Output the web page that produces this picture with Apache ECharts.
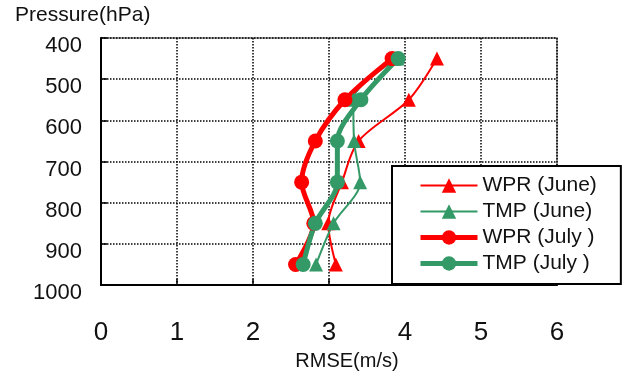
<!DOCTYPE html>
<html>
<head>
<meta charset="utf-8">
<script src="https://cdn.jsdelivr.net/npm/echarts@6/dist/echarts.min.js"></script>
<style>
  html, body { margin: 0; padding: 0; background: #fff; }
  #chart { width: 631px; height: 376px; }
</style>
</head>
<body>
<div id="chart"></div>
<script>
// Pressure levels (hPa) and RMSE (m/s) per series
const levels = [450, 550, 650, 750, 850, 950]
const wprJune = [4.42, 4.05, 3.39, 3.17, 2.99, 3.09]
const tmpJune = [3.90, 3.32, 3.33, 3.41, 3.06, 2.83]
const wprJuly = [3.83, 3.21, 2.82, 2.64, 2.80, 2.56]
const tmpJuly = [3.91, 3.42, 3.11, 3.11, 2.82, 2.66]
const seriesNames = ['WPR (June)', 'TMP (June)', 'WPR (July )', 'TMP (July )']

const RED = '#ff0000'
const GREEN = '#339966'
const FONT = 'Liberation Sans, Arial, sans-serif'

const pairs = vals => vals.map((v, i) => [v, levels[i]])

const makeSeries = (name, vals, color, symbol, width, size) => ({
  name,
  type: 'line',
  data: pairs(vals),
  smooth: 0.3,
  symbol,
  symbolSize: size,
  lineStyle: { color, width },
  itemStyle: { color },
  emphasis: { disabled: true },
})

const chart = echarts.init(document.getElementById('chart'))

chart.setOption({
  animation: false,
  textStyle: { fontFamily: FONT },
  title: {
    text: 'Pressure(hPa)',
    left: 10,
    top: 0,
    textStyle: { fontFamily: FONT, fontSize: 21, fontWeight: 'normal', color: '#111' },
  },
  grid: {
    left: 101,
    right: 74,
    top: 38,
    bottom: 89,
    show: true,
    borderColor: '#999',
    borderWidth: 2,
  },
  legend: {
    orient: 'vertical',
    left: 392,
    top: 166,
    data: [
      { name: seriesNames[0], lineStyle: { width: 2 } },
      { name: seriesNames[1], lineStyle: { width: 2 } },
      { name: seriesNames[2], lineStyle: { width: 5 } },
      { name: seriesNames[3], lineStyle: { width: 5 } },
    ],
    itemWidth: 57,
    itemHeight: 18,
    itemGap: 5,
    padding: [9, 24, 10, 26],
    borderColor: '#000',
    borderWidth: 2,
    borderRadius: 0,
    backgroundColor: '#fff',
    textStyle: { fontFamily: FONT, fontSize: 21, color: '#111', lineHeight: 21 },
  },
  xAxis: {
    type: 'value',
    min: 0,
    max: 6,
    interval: 1,
    name: 'RMSE(m/s)',
    nameLocation: 'middle',
    nameGap: 63,
    nameTextStyle: { fontFamily: FONT, fontSize: 20, color: '#111', padding: [0, 0, 0, 36] },
    axisLine: { show: true, lineStyle: { color: '#000', width: 2 } },
    axisTick: { show: true, inside: true, length: 6, lineStyle: { color: '#000', width: 1.5 } },
    axisLabel: { fontFamily: FONT, fontSize: 26, color: '#111', margin: 35 },
    splitLine: { show: true, lineStyle: { color: '#000', type: 'dotted', width: 1.5 } },
  },
  yAxis: {
    type: 'value',
    inverse: true,
    min: 400,
    max: 1000,
    interval: 100,
    axisLine: { show: true, lineStyle: { color: '#000', width: 2 } },
    axisTick: { show: true, inside: true, length: 6, lineStyle: { color: '#000', width: 1.5 } },
    axisLabel: {
      fontFamily: FONT,
      fontSize: 22,
      color: '#111',
      margin: 19,
      verticalAlign: 'top',
      lineHeight: 16,
      formatter: v => String(v),
    },
    splitLine: { show: true, lineStyle: { color: '#000', type: 'dotted', width: 1.5 } },
  },
  series: [
    makeSeries(seriesNames[0], wprJune, RED, 'triangle', 2, 14),
    makeSeries(seriesNames[1], tmpJune, GREEN, 'triangle', 2, 14),
    makeSeries(seriesNames[2], wprJuly, RED, 'circle', 5, 15),
    makeSeries(seriesNames[3], tmpJuly, GREEN, 'circle', 5, 15),
  ],
})
</script>
</body>
</html>
